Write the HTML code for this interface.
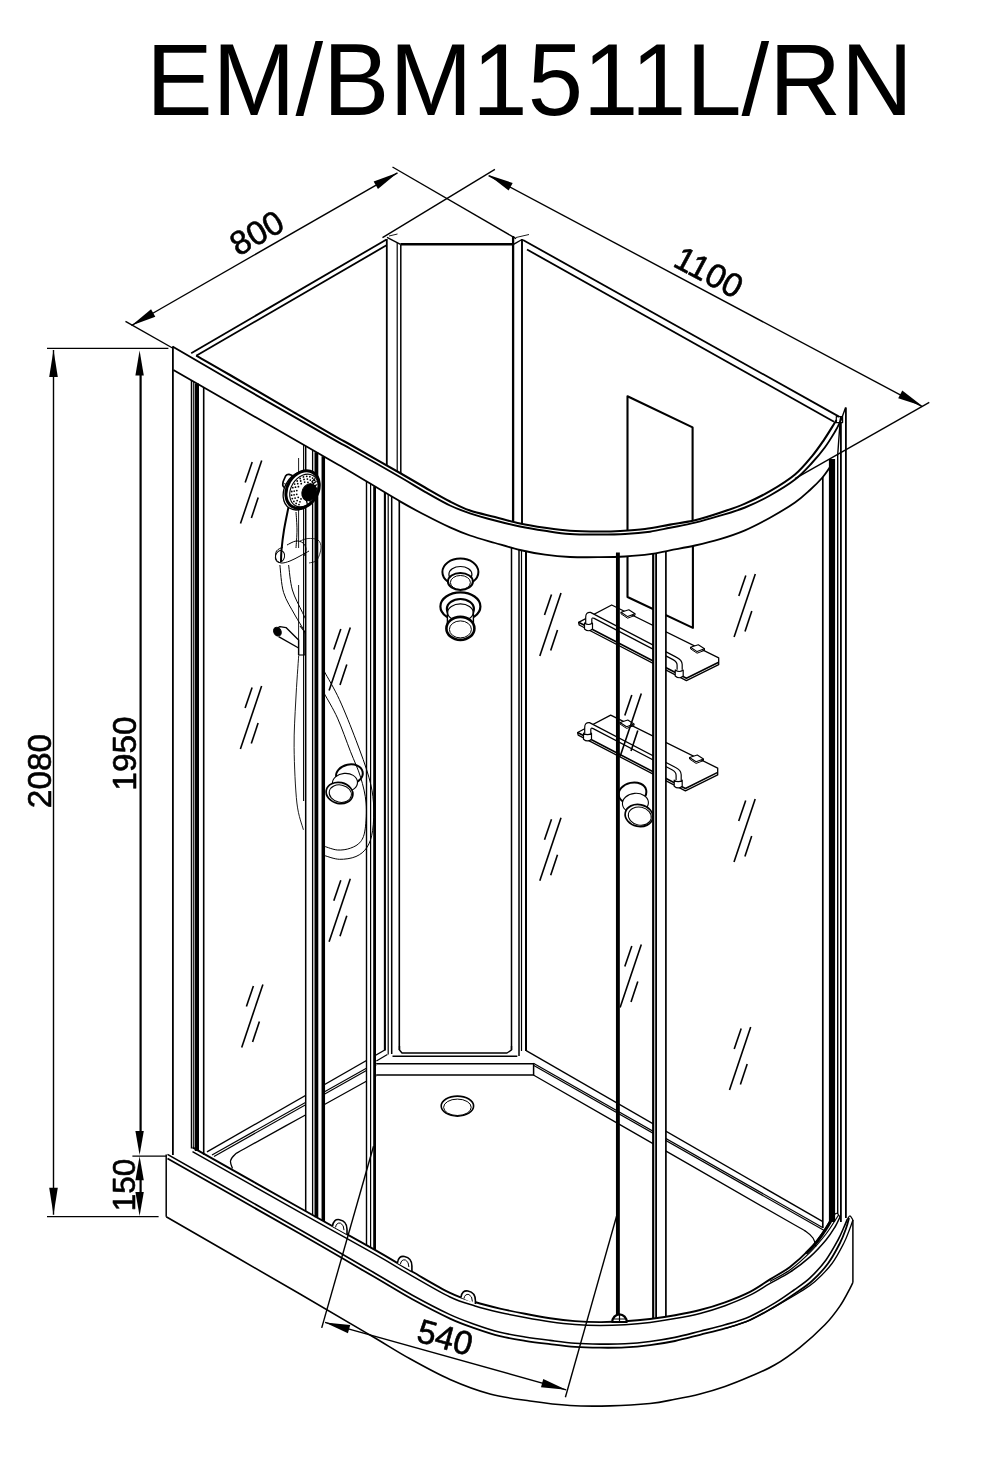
<!DOCTYPE html>
<html><head><meta charset="utf-8"><title>EM/BM1511L/RN</title>
<style>
html,body{margin:0;padding:0;background:#fff}
svg{display:block;will-change:transform}
text{font-family:"Liberation Sans",Arial,sans-serif}
</style></head><body>
<svg width="1001" height="1463" viewBox="0 0 1001 1463" fill="none" stroke="#000" stroke-linecap="butt" stroke-linejoin="round">
<rect width="1001" height="1463" fill="#fff" stroke="none"/>
<text x="0" y="0" font-size="99.5" text-anchor="start" transform="translate(146.2 114.9) rotate(0) scale(1 1.027)"  stroke="none" fill="#000">EM/BM1511L/RN</text>
<line x1="191.2" y1="353.2" x2="386.5" y2="239.5" stroke-width="1.8"/>
<line x1="196.2" y1="355.8" x2="386.5" y2="245.3" stroke-width="1.8"/>
<line x1="523" y1="240" x2="839" y2="416.6" stroke-width="1.8"/>
<line x1="527" y1="249.5" x2="834" y2="421.7" stroke-width="1.8"/>
<line x1="400.5" y1="244.2" x2="513" y2="244.2" stroke-width="2.4"/>
<line x1="386.8" y1="239" x2="386.8" y2="464.95" stroke-width="1.8"/>
<line x1="397.2" y1="243" x2="397.2" y2="470.9" stroke-width="1.2"/>
<line x1="400.8" y1="244.4" x2="400.8" y2="472.96" stroke-width="1.5"/>
<line x1="513.1" y1="236" x2="513.1" y2="521.37" stroke-width="2.3"/>
<line x1="522" y1="239" x2="522" y2="523.42" stroke-width="1.9"/>
<line x1="387" y1="237.3" x2="400.5" y2="244.4" stroke-width="1.4"/>
<line x1="389" y1="236" x2="397.5" y2="234" stroke-width="0.9"/>
<line x1="522" y1="239.5" x2="513.5" y2="244.4" stroke-width="1.4"/>
<line x1="516" y1="237.5" x2="529" y2="234.5" stroke-width="0.9"/>
<path d="M627.5 530.56 L627.5 396.2 L692.6 427.4 L692.6 520.84" stroke-width="2.1" fill="none"/>
<path d="M627.5 556.34 L627.5 597 L692.9 627.9 L692.9 545.96" stroke-width="2.1" fill="none"/>
<path d="M399.5 1046 L399.5 1050 L402 1053 L507 1053 L511.5 1050 L511.5 1046" stroke-width="1.4" fill="none"/>
<line x1="392.5" y1="1056.2" x2="517.3" y2="1056.2" stroke-width="1.4"/>
<path d="M376.2 1063.7 L533.6 1063.7 L533.6 1074.9 L376.2 1074.9" stroke-width="1.5" fill="none"/>
<line x1="384.8" y1="1050" x2="207" y2="1151.9" stroke-width="1.4"/>
<line x1="387.4" y1="1054.4" x2="376.4" y2="1061" stroke-width="1.2"/>
<line x1="376.2" y1="1062.7" x2="212" y2="1154.9" stroke-width="1.2"/>
<line x1="376.2" y1="1064.9" x2="214" y2="1156.5" stroke-width="1.2"/>
<path d="M376.2 1075.8 C374.63 1076.67 379.5 1073.97 366.8 1081 C354.1 1088.03 320.47 1106.67 300 1118 C279.53 1129.33 254.83 1142.92 244 1149 C233.17 1155.08 237.25 1152.5 235 1154.5 C232.75 1156.5 230.92 1158.67 230.5 1161 C230.08 1163.33 232.17 1167.25 232.5 1168.5" stroke-width="1.3" fill="none"/>
<line x1="526.2" y1="1050.7" x2="822.4" y2="1221.4" stroke-width="1.4"/>
<line x1="533.4" y1="1063.3" x2="823" y2="1227.79" stroke-width="1.2"/>
<line x1="533.4" y1="1065.3" x2="826" y2="1231.5" stroke-width="1.2"/>
<path d="M533.4 1075 C559.5 1089.98 647.23 1140.35 690 1164.9 C732.77 1189.45 770.67 1211.2 790 1222.3 C809.33 1233.4 802.17 1228.88 806 1231.5 C809.83 1234.12 811.33 1235.5 813 1238 C814.67 1240.5 815.5 1245.08 816 1246.5" stroke-width="1.3" fill="none"/>
<ellipse cx="457.4" cy="1106.1" rx="16.2" ry="10" stroke-width="1.6" fill="none"/>
<ellipse cx="457.4" cy="1107.3" rx="13.8" ry="8.2" stroke-width="1.0" fill="none"/>
<ellipse cx="460.4" cy="572" rx="18" ry="13.5" stroke-width="2" fill="none"/>
<ellipse cx="460.4" cy="574.5" rx="11.5" ry="8" stroke-width="1.2" fill="none"/>
<ellipse cx="460.4" cy="581.5" rx="12.5" ry="8.5" stroke-width="2" fill="#fff"/>
<ellipse cx="460.4" cy="582.5" rx="10" ry="7" stroke-width="1.0" fill="none"/>
<ellipse cx="460.4" cy="606.4" rx="20" ry="14" stroke-width="2.2" fill="none"/>
<ellipse cx="460.4" cy="609" rx="13.5" ry="10" stroke-width="2.2" fill="none"/>
<path d="M447.4 611.4 L447.4 626.4 L473.4 626.4 L473.4 611.4 Z" fill="#fff" stroke="none"/>
<ellipse cx="460.4" cy="612.4" rx="12.8" ry="8.5" stroke-width="1.2" fill="#fff"/>
<line x1="447.4" y1="611.4" x2="447.4" y2="625.4" stroke-width="1.4"/>
<line x1="473.4" y1="611.4" x2="473.4" y2="625.4" stroke-width="1.4"/>
<ellipse cx="460.4" cy="628.4" rx="14" ry="11.5" stroke-width="2.6" fill="#fff"/>
<ellipse cx="460.4" cy="629.4" rx="11" ry="8.5" stroke-width="1.0" fill="none"/>
<path d="M578.6 622.3 L611.7 605 L718.7 657.9 L718.7 664.7 L686.4 680.6 L579.2 625 Z" stroke-width="1.3" fill="#fff"/>
<path d="M578.6 622.3 L686.4 678.3 L718.7 662.2" stroke-width="1.6" fill="none"/>
<path d="M621 612.3 L628.8 609.8 L635 613.8 L627.6 616.6 Z" stroke-width="1.1" fill="#fff"/>
<path d="M621 612.3 L621 613.8 L627.6 618.2 L635 615.4 L635 613.8" stroke-width="1.0" fill="none"/>
<path d="M690.5 647.3 L698.3 644.8 L704.5 648.8 L697.1 651.6 Z" stroke-width="1.1" fill="#fff"/>
<path d="M690.5 647.3 L690.5 648.8 L697.1 653.2 L704.5 650.4 L704.5 648.8" stroke-width="1.0" fill="none"/>
<path d="M585.7 623.1 L585.7 617.2 Q585.7 612 590.5 612.4 L676.2 657.1 Q682.2 660 682.2 664.5 L682.2 669.8" stroke-width="1.2" fill="#fff"/>
<path d="M591.8 623.1 L591.8 619.4 Q591.8 617.2 594.2 618.4 L673 659.6 Q677.1 661.8 677.1 665 L677.1 669.8" stroke-width="1.2" fill="none"/>
<path d="M584.5 623 L584.5 629 Q588.5 632.5 592.5 629 L592.5 623 Q588.5 626 584.5 623 Z" stroke-width="1.2" fill="#fff"/>
<path d="M675.2 670 L675.2 676 Q679.2 679.5 683.2 676 L683.2 670 Q679.2 673 675.2 670 Z" stroke-width="1.2" fill="#fff"/>
<path d="M577.6 732.5 L610.7 715.2 L717.7 768.1 L717.7 774.9 L685.4 790.8 L578.2 735.2 Z" stroke-width="1.3" fill="#fff"/>
<path d="M577.6 732.5 L685.4 788.5 L717.7 772.4" stroke-width="1.6" fill="none"/>
<path d="M620 722.5 L627.8 720 L634 724 L626.6 726.8 Z" stroke-width="1.1" fill="#fff"/>
<path d="M620 722.5 L620 724 L626.6 728.4 L634 725.6 L634 724" stroke-width="1.0" fill="none"/>
<path d="M689.5 757.5 L697.3 755 L703.5 759 L696.1 761.8 Z" stroke-width="1.1" fill="#fff"/>
<path d="M689.5 757.5 L689.5 759 L696.1 763.4 L703.5 760.6 L703.5 759" stroke-width="1.0" fill="none"/>
<path d="M584.7 733.3 L584.7 727.4 Q584.7 722.2 589.5 722.6 L675.2 767.3 Q681.2 770.2 681.2 774.7 L681.2 780" stroke-width="1.2" fill="#fff"/>
<path d="M590.8 733.3 L590.8 729.6 Q590.8 727.4 593.2 728.6 L672 769.8 Q676.1 772 676.1 775.2 L676.1 780" stroke-width="1.2" fill="none"/>
<path d="M583.5 733.2 L583.5 739.2 Q587.5 742.7 591.5 739.2 L591.5 733.2 Q587.5 736.2 583.5 733.2 Z" stroke-width="1.2" fill="#fff"/>
<path d="M674.2 780.2 L674.2 786.2 Q678.2 789.7 682.2 786.2 L682.2 780.2 Q678.2 783.2 674.2 780.2 Z" stroke-width="1.2" fill="#fff"/>
<line x1="298.6" y1="458" x2="298.6" y2="548" stroke-width="0.9"/>
<line x1="298.6" y1="585" x2="298.6" y2="655" stroke-width="0.9"/>
<path d="M279.9 565 C280.52 569.58 281.1 584.17 283.6 592.5 C286.1 600.83 291.35 608.35 294.9 615 C298.45 621.65 302.42 626.57 304.9 632.4 C307.38 638.23 308.98 647.07 309.8 650" stroke-width="1.0" fill="none"/>
<path d="M288.6 565 C289.23 569.17 290.1 582.1 292.4 590 C294.7 597.9 299.5 606.17 302.4 612.4 C305.3 618.63 308.57 624.9 309.8 627.4" stroke-width="1.0" fill="none"/>
<path d="M298.7 655.4 C298.22 662.83 296.57 684.63 295.8 700 C295.03 715.37 293.92 730.43 294.1 747.6 C294.28 764.77 295.35 789.3 296.9 803 C298.45 816.7 302.32 825.33 303.4 829.8" stroke-width="0.9" fill="none"/>
<path d="M298.6 655 L298.6 640 L291.5 633 L286 627.6 L280 626.6 L275.6 629" stroke-width="1.4" fill="none"/>
<path d="M304.8 655 L304.8 632 L300 626" stroke-width="1.1" fill="none"/>
<path d="M278.6 636.6 L298.6 648" stroke-width="1.4" fill="none"/>
<ellipse cx="277.4" cy="631.6" rx="3.6" ry="4.6" stroke-width="1" fill="#000" transform="rotate(-30 277.4 631.6)"/>
<line x1="298.6" y1="655" x2="304.8" y2="655" stroke-width="1.1"/>
<ellipse cx="349.4" cy="774.5" rx="13.5" ry="9.99" stroke-width="2.0" fill="none" transform="rotate(-12 349.4 774.5)"/>
<ellipse cx="344.94" cy="782.83" rx="12.56" ry="9.45" stroke-width="1.1" fill="#fff" transform="rotate(-5 344.94 782.83)"/>
<ellipse cx="339.5" cy="793" rx="13.5" ry="10.53" stroke-width="1.7" fill="#fff" transform="rotate(12 339.5 793)"/>
<ellipse cx="340.3" cy="793.6" rx="11.21" ry="8.64" stroke-width="1.0" fill="none" transform="rotate(12 340.3 793.6)"/>
<ellipse cx="632.5" cy="793" rx="14" ry="10.36" stroke-width="2.0" fill="none" transform="rotate(-12 632.5 793)"/>
<ellipse cx="635.42" cy="803.12" rx="13.02" ry="9.8" stroke-width="1.1" fill="#fff" transform="rotate(-5 635.42 803.12)"/>
<ellipse cx="639" cy="815.5" rx="14" ry="10.92" stroke-width="1.7" fill="#fff" transform="rotate(12 639 815.5)"/>
<ellipse cx="639.8" cy="816.1" rx="11.62" ry="8.96" stroke-width="1.0" fill="none" transform="rotate(12 639.8 816.1)"/>
<path d="M305.9 446.14 L324 456.55 L324 1221.43 L305.9 1211.31 Z" fill="#fff" stroke="none"/>
<path d="M366.5 481.39 L375.5 486.81 L375.5 1250.24 L366.5 1245.16 Z" fill="#fff" stroke="none"/>
<path d="M653.3 553.7 L665.9 551.13 L665.9 1316.75 L653.3 1318.58 Z" fill="#fff" stroke="none"/>
<path d="M324.6 672 C327.07 676.6 334.17 688.23 339.4 699.6 C344.63 710.97 351.08 727.27 356 740.2 C360.92 753.13 365.98 766.73 368.9 777.2 C371.82 787.67 372.88 794.08 373.5 803 C374.12 811.92 373.68 823.32 372.6 830.7 C371.52 838.08 369.77 843 367 847.3 C364.23 851.6 360.6 854.5 356 856.5 C351.4 858.5 344.63 859.45 339.4 859.3 C334.17 859.15 327.07 856.22 324.6 855.6" stroke-width="1.0" fill="none"/>
<path d="M324.6 694.1 C326.75 698.1 333.2 708.57 337.5 718.1 C341.8 727.63 346.55 741.45 350.4 751.3 C354.25 761.15 357.98 768.58 360.6 777.2 C363.22 785.82 365.33 794.4 366.1 803 C366.87 811.6 366.12 822.35 365.2 828.8 C364.28 835.25 363.07 838.47 360.6 841.7 C358.13 844.93 354.25 846.82 350.4 848.2 C346.55 849.58 341.8 850.3 337.5 850 C333.2 849.7 326.75 847 324.6 846.4" stroke-width="1.0" fill="none"/>
<line x1="172.9" y1="346.5" x2="172.9" y2="1155" stroke-width="1.8"/>
<line x1="191.5" y1="380.39" x2="191.5" y2="1148.4" stroke-width="1.5"/>
<line x1="193.7" y1="381.65" x2="193.7" y2="1149.08" stroke-width="1.1"/>
<line x1="196.9" y1="383.49" x2="196.9" y2="1150.88" stroke-width="4.2"/>
<line x1="203.7" y1="387.39" x2="203.7" y2="1154.72" stroke-width="1.6"/>
<line x1="303.6" y1="444.82" x2="303.6" y2="801" stroke-width="1.1"/>
<line x1="305.7" y1="446.03" x2="305.7" y2="1211.2" stroke-width="1.5"/>
<line x1="312.6" y1="449.99" x2="312.6" y2="1215.06" stroke-width="1.3"/>
<line x1="316.4" y1="452.18" x2="316.4" y2="1217.19" stroke-width="3.8"/>
<line x1="323.3" y1="456.15" x2="323.3" y2="1221.04" stroke-width="3.5"/>
<line x1="366.5" y1="481.39" x2="366.5" y2="1245.16" stroke-width="1.4"/>
<line x1="370.6" y1="483.86" x2="370.6" y2="1247.47" stroke-width="1.2"/>
<line x1="374.6" y1="486.27" x2="374.6" y2="1249.73" stroke-width="2.8"/>
<line x1="384.9" y1="492.45" x2="384.9" y2="1050.5" stroke-width="2.1"/>
<line x1="388.2" y1="494.43" x2="388.2" y2="1054.5" stroke-width="1.2"/>
<line x1="391.7" y1="496.51" x2="391.7" y2="1054" stroke-width="1.5"/>
<line x1="399.3" y1="500.99" x2="399.3" y2="1050" stroke-width="1.6"/>
<line x1="511.5" y1="547.81" x2="511.5" y2="1050" stroke-width="1.5"/>
<line x1="519" y1="549.76" x2="519" y2="1056" stroke-width="1.5"/>
<line x1="521.5" y1="550.35" x2="521.5" y2="1051" stroke-width="1.2"/>
<line x1="526" y1="551.34" x2="526" y2="1051" stroke-width="2"/>
<line x1="617.9" y1="552.5" x2="617.9" y2="1318" stroke-width="3.9"/>
<line x1="653.2" y1="553.71" x2="653.2" y2="1318.6" stroke-width="2.2"/>
<line x1="656.1" y1="553.2" x2="656.1" y2="1318.21" stroke-width="1.8"/>
<line x1="665.9" y1="551.13" x2="665.9" y2="1316.75" stroke-width="1.7"/>
<line x1="822.8" y1="477.06" x2="822.8" y2="1228" stroke-width="1.7"/>
<line x1="832" y1="459" x2="832" y2="1222" stroke-width="6.2"/>
<path d="M845.6 407.5 L840 423 L837.7 455 L837.7 1214" stroke-width="1.4" fill="none"/>
<line x1="840.9" y1="423" x2="840.9" y2="1222" stroke-width="1.8"/>
<path d="M836.3 416.6 L842.6 416.6 L842.6 422.6 L836.3 422.6 Z" stroke-width="1.2" fill="none"/>
<line x1="845.9" y1="407.4" x2="845.9" y2="1218" stroke-width="1.8"/>
<path d="M288.5 507 C287.75 510.83 285.17 522.83 284 530 C282.83 537.17 282 544.67 281.5 550 C281 555.33 281.08 560 281 562" stroke-width="2.0" fill="none"/>
<path d="M296 512 C296.17 515 297 524 297 530 C297 536 296.17 545 296 548" stroke-width="1.0" fill="none"/>
<path d="M283 547 C281.92 547.67 277.67 549 276.5 551 C275.33 553 275.25 557 276 559 C276.75 561 278.67 562.67 281 563 C283.33 563.33 286.83 562.17 290 561 C293.17 559.83 296.83 557.67 300 556 C303.17 554.33 307.5 551.83 309 551" stroke-width="1.0" fill="none"/>
<path d="M287 545 C288.5 544.33 293.33 541.33 296 541 C298.67 540.67 301.33 541.67 303 543 C304.67 544.33 305.83 546.83 306 549 C306.17 551.17 304.33 554.83 304 556" stroke-width="1.0" fill="none"/>
<ellipse cx="280" cy="556.5" rx="4.5" ry="6" stroke-width="1.0" fill="none" transform="rotate(15 280 556.5)"/>
<path d="M300 541 C301.33 540.58 305 538.67 308 538.5 C311 538.33 315.83 538.42 318 540 C320.17 541.58 321.17 544.67 321 548 C320.83 551.33 319 557.5 317 560 C315 562.5 310.33 562.5 309 563" stroke-width="0.8" fill="none"/>
<path d="M283.2 481.5 L285.6 476 Q286.8 474.2 289 474.4 L291.8 475.2 Q293.6 476 293 478 L290 486.8 Q289 488.8 287 488.4 L284.4 487.4 Q282.4 486.4 282.8 484 Z" stroke-width="1.7" fill="#fff"/>
<line x1="284.2" y1="483.6" x2="290.6" y2="486.2" stroke-width="1.0"/>
<ellipse cx="300.3" cy="490.6" rx="15.6" ry="20.6" stroke-width="1.3" fill="#fff" transform="rotate(32 300.3 490.6)"/>
<ellipse cx="302.6" cy="489.6" rx="15.2" ry="20" stroke-width="3.0" fill="#fff" transform="rotate(32 302.6 489.6)"/>
<ellipse cx="304" cy="490.5" rx="13" ry="17.4" stroke-width="1.1" fill="none" transform="rotate(31 304 490.5)"/>
<circle cx="301" cy="498.89" r="0.9" fill="#000" stroke="none"/>
<circle cx="298.25" cy="497.37" r="0.9" fill="#000" stroke="none"/>
<circle cx="296.74" cy="494.37" r="0.9" fill="#000" stroke="none"/>
<circle cx="296.8" cy="490.53" r="0.9" fill="#000" stroke="none"/>
<circle cx="298.41" cy="486.68" r="0.9" fill="#000" stroke="none"/>
<circle cx="301.24" cy="483.66" r="0.9" fill="#000" stroke="none"/>
<circle cx="304.66" cy="482.12" r="0.9" fill="#000" stroke="none"/>
<circle cx="307.93" cy="482.38" r="0.9" fill="#000" stroke="none"/>
<circle cx="310.36" cy="484.4" r="0.9" fill="#000" stroke="none"/>
<circle cx="299.96" cy="501.8" r="0.9" fill="#000" stroke="none"/>
<circle cx="297.13" cy="500.54" r="0.9" fill="#000" stroke="none"/>
<circle cx="295.09" cy="498.12" r="0.9" fill="#000" stroke="none"/>
<circle cx="294.08" cy="494.82" r="0.9" fill="#000" stroke="none"/>
<circle cx="294.21" cy="491.03" r="0.9" fill="#000" stroke="none"/>
<circle cx="295.47" cy="487.17" r="0.9" fill="#000" stroke="none"/>
<circle cx="297.71" cy="483.7" r="0.9" fill="#000" stroke="none"/>
<circle cx="300.68" cy="481.01" r="0.9" fill="#000" stroke="none"/>
<circle cx="304.03" cy="479.42" r="0.9" fill="#000" stroke="none"/>
<circle cx="307.38" cy="479.1" r="0.9" fill="#000" stroke="none"/>
<circle cx="310.33" cy="480.1" r="0.9" fill="#000" stroke="none"/>
<circle cx="312.56" cy="482.29" r="0.9" fill="#000" stroke="none"/>
<circle cx="298.98" cy="504.54" r="0.9" fill="#000" stroke="none"/>
<circle cx="296.14" cy="503.44" r="0.9" fill="#000" stroke="none"/>
<circle cx="293.87" cy="501.41" r="0.9" fill="#000" stroke="none"/>
<circle cx="292.32" cy="498.61" r="0.9" fill="#000" stroke="none"/>
<circle cx="291.6" cy="495.22" r="0.9" fill="#000" stroke="none"/>
<circle cx="291.77" cy="491.5" r="0.9" fill="#000" stroke="none"/>
<circle cx="292.81" cy="487.71" r="0.9" fill="#000" stroke="none"/>
<circle cx="294.65" cy="484.11" r="0.9" fill="#000" stroke="none"/>
<circle cx="297.16" cy="480.98" r="0.9" fill="#000" stroke="none"/>
<circle cx="300.16" cy="478.52" r="0.9" fill="#000" stroke="none"/>
<circle cx="303.43" cy="476.92" r="0.9" fill="#000" stroke="none"/>
<circle cx="306.74" cy="476.28" r="0.9" fill="#000" stroke="none"/>
<circle cx="309.86" cy="476.67" r="0.9" fill="#000" stroke="none"/>
<circle cx="312.56" cy="478.04" r="0.9" fill="#000" stroke="none"/>
<circle cx="314.64" cy="480.3" r="0.9" fill="#000" stroke="none"/>
<line x1="311.62" y1="482.14" x2="314.96" y2="478.46" stroke-width="1.3"/>
<line x1="312.74" y1="484.03" x2="316.58" y2="481.19" stroke-width="1.3"/>
<line x1="313.34" y1="486.31" x2="317.45" y2="484.48" stroke-width="1.3"/>
<line x1="313.39" y1="488.84" x2="317.52" y2="488.12" stroke-width="1.3"/>
<line x1="312.88" y1="491.47" x2="316.78" y2="491.9" stroke-width="1.3"/>
<line x1="311.84" y1="494.04" x2="315.29" y2="495.6" stroke-width="1.3"/>
<line x1="310.34" y1="496.4" x2="313.12" y2="499" stroke-width="1.3"/>
<line x1="308.46" y1="498.41" x2="310.42" y2="501.89" stroke-width="1.3"/>
<line x1="306.31" y1="499.95" x2="307.33" y2="504.11" stroke-width="1.3"/>
<ellipse cx="309.3" cy="492.2" rx="7.2" ry="8.8" stroke-width="1" fill="#000" transform="rotate(25 309.3 492.2)"/>
<path d="M196.2 355.6 C201.83 358.83 207.7 362.03 230 375 C252.3 387.97 310 421.82 330 433.4 C350 444.98 338.33 437.9 350 444.5 C361.67 451.1 387.5 465.83 400 473 C412.5 480.17 416.67 482.75 425 487.5 C433.33 492.25 442.5 497.67 450 501.5 C457.5 505.33 462.5 507.92 470 510.5 C477.5 513.08 486.67 514.83 495 517 C503.33 519.17 511.67 521.7 520 523.5 C528.33 525.3 536.67 526.58 545 527.8 C553.33 529.02 560.83 530.18 570 530.8 C579.17 531.42 591.67 531.47 600 531.5 C608.33 531.53 612.5 531.42 620 531 C627.5 530.58 636.67 530.07 645 529 C653.33 527.93 661.67 526.05 670 524.6 C678.33 523.15 686.67 522.27 695 520.3 C703.33 518.33 711.67 515.58 720 512.8 C728.33 510.02 736.67 507.2 745 503.6 C753.33 500 761.67 496.05 770 491.2 C778.33 486.35 787.95 480.4 795 474.5 C802.05 468.6 807.47 461.58 812.3 455.8 C817.13 450.02 820.38 445.1 824 439.8 C827.62 434.5 831.93 427.3 834 424 C836.07 420.7 836 420.67 836.4 420" stroke-width="2.1" fill="none"/>
<path d="M172.5 346.5 C182.08 352.08 203.75 364.85 230 380 C256.25 395.15 310 425.98 330 437.4 C350 448.82 338.33 441.9 350 448.5 C361.67 455.1 387.5 469.78 400 477 C412.5 484.22 416.67 487.05 425 491.8 C433.33 496.55 442.5 501.92 450 505.5 C457.5 509.08 462.5 510.8 470 513.3 C477.5 515.8 486.67 518.3 495 520.5 C503.33 522.7 511.67 524.78 520 526.5 C528.33 528.22 536.67 529.55 545 530.8 C553.33 532.05 560.83 533.38 570 534 C579.17 534.62 590.83 534.5 600 534.5 C609.17 534.5 616.67 534.47 625 534 C633.33 533.53 642.5 532.73 650 531.7 C657.5 530.67 662.5 529.3 670 527.8 C677.5 526.3 686.67 524.72 695 522.7 C703.33 520.68 711.67 518.23 720 515.7 C728.33 513.17 736.67 510.87 745 507.5 C753.33 504.13 761.67 500.15 770 495.5 C778.33 490.85 787.95 485.1 795 479.6 C802.05 474.1 807.33 467.85 812.3 462.5 C817.27 457.15 821.05 452.58 824.8 447.5 C828.55 442.42 832.35 436.08 834.8 432 C837.25 427.92 838.47 425.5 839.5 423 C840.53 420.5 840.75 418 841 417" stroke-width="1.9" fill="none"/>
<path d="M173.4 370 C182.83 375.42 203.9 387.5 230 402.5 C256.1 417.5 310 448.5 330 460 C350 471.5 338.33 464.6 350 471.5 C361.67 478.4 387.5 494.15 400 501.4 C412.5 508.65 416.67 510.67 425 515 C433.33 519.33 442.5 523.98 450 527.4 C457.5 530.82 462.5 532.9 470 535.5 C477.5 538.1 486.67 540.58 495 543 C503.33 545.42 511.67 548.05 520 550 C528.33 551.95 536.67 553.53 545 554.7 C553.33 555.87 560.83 556.58 570 557 C579.17 557.42 590.83 557.28 600 557.2 C609.17 557.12 616.67 557 625 556.5 C633.33 556 642.5 555.23 650 554.2 C657.5 553.17 662.5 551.75 670 550.3 C677.5 548.85 686.67 547.37 695 545.5 C703.33 543.63 711.67 541.63 720 539.1 C728.33 536.57 736.67 533.87 745 530.3 C753.33 526.73 761.67 522.33 770 517.7 C778.33 513.07 788.33 507.12 795 502.5 C801.67 497.88 805.5 494.08 810 490 C814.5 485.92 818.67 481.83 822 478 C825.33 474.17 828 470.08 830 467 C832 463.92 833.33 460.75 834 459.5" stroke-width="1.8" fill="none"/>
<path d="M192.5 1147.4 C210.42 1157.5 269.6 1190.92 300 1208 C330.4 1225.08 356.17 1239.27 374.9 1249.9 C393.63 1260.53 399.88 1264.63 412.4 1271.8 C424.92 1278.97 439.57 1287.87 450 1292.9 C460.43 1297.93 466.67 1299.38 475 1302 C483.33 1304.62 491.67 1306.63 500 1308.6 C508.33 1310.57 516.67 1312.2 525 1313.8 C533.33 1315.4 541.67 1316.98 550 1318.2 C558.33 1319.42 566.67 1320.45 575 1321.1 C583.33 1321.75 591.67 1322.07 600 1322.1 C608.33 1322.13 616.67 1321.82 625 1321.3 C633.33 1320.78 641.67 1320.02 650 1319 C658.33 1317.98 666.67 1316.7 675 1315.2 C683.33 1313.7 691.67 1312.15 700 1310 C708.33 1307.85 716.67 1305.33 725 1302.3 C733.33 1299.27 742.5 1295.62 750 1291.8 C757.5 1287.98 763.33 1283.55 770 1279.4 C776.67 1275.25 783.33 1271.98 790 1266.9 C796.67 1261.82 804.67 1254.38 810 1248.9 C815.33 1243.42 818.83 1238.32 822 1234 C825.17 1229.68 827 1226.17 829 1223 C831 1219.83 833.17 1216.33 834 1215" stroke-width="1.9" fill="none"/>
<path d="M192.5 1151.7 C210.42 1161.8 269.6 1195.22 300 1212.3 C330.4 1229.38 356.17 1243.58 374.9 1254.2 C393.63 1264.82 399.88 1268.92 412.4 1276.04 C424.92 1283.17 439.57 1291.99 450 1296.98 C460.43 1301.96 466.67 1303.38 475 1305.96 C483.33 1308.54 491.67 1310.52 500 1312.45 C508.33 1314.38 516.67 1315.97 525 1317.54 C533.33 1319.1 541.67 1320.65 550 1321.83 C558.33 1323 566.67 1324 575 1324.61 C583.33 1325.22 591.67 1325.49 600 1325.5 C608.33 1325.51 616.67 1325.22 625 1324.7 C633.33 1324.18 641.67 1323.42 650 1322.4 C658.33 1321.38 666.67 1320.1 675 1318.6 C683.33 1317.1 691.67 1315.55 700 1313.4 C708.33 1311.25 716.67 1308.73 725 1305.7 C733.33 1302.67 742.5 1298.92 750 1295.2 C757.5 1291.48 763.33 1287.23 770 1283.4 C776.67 1279.57 783.33 1276.62 790 1272.2 C796.67 1267.78 804 1262.27 810 1256.9 C816 1251.53 821.83 1244.98 826 1240 C830.17 1235.02 832.67 1230.83 835 1227 C837.33 1223.17 839.17 1218.67 840 1217" stroke-width="1.5" fill="none"/>
<path d="M770 1281.4 C773.33 1279.48 783.33 1274.73 790 1269.9 C796.67 1265.07 804 1258.38 810 1252.4 C816 1246.42 821.67 1239.57 826 1234 C830.33 1228.43 833.92 1222.17 836 1219 C838.08 1215.83 838.08 1215.67 838.5 1215" stroke-width="1.2" fill="none"/>
<path d="M834 1215 C834.5 1214.72 836 1212.97 837 1213.3 C838 1213.63 839.5 1216.38 840 1217" stroke-width="1.2" fill="none"/>
<path d="M806 1253.5 C807.67 1251.75 813 1246.58 816 1243 C819 1239.42 821.67 1235.42 824 1232 C826.33 1228.58 828.42 1225.17 830 1222.5 C831.58 1219.83 832.92 1217.08 833.5 1216" stroke-width="3" fill="none"/>
<path d="M167.5 1154.4 C189.58 1166.95 265.43 1209.9 300 1229.7 C334.57 1249.5 356.17 1262.28 374.9 1273.2 C393.63 1284.12 399.88 1288.3 412.4 1295.2 C424.92 1302.1 439.57 1309.73 450 1314.6 C460.43 1319.47 466.67 1321.45 475 1324.4 C483.33 1327.35 491.67 1330.2 500 1332.3 C508.33 1334.4 516.67 1335.65 525 1337 C533.33 1338.35 541.67 1339.37 550 1340.4 C558.33 1341.43 566.67 1342.58 575 1343.2 C583.33 1343.82 591.67 1344 600 1344.1 C608.33 1344.2 616.67 1344.23 625 1343.8 C633.33 1343.37 641.67 1342.57 650 1341.5 C658.33 1340.43 666.67 1339.12 675 1337.4 C683.33 1335.68 691.67 1333.3 700 1331.2 C708.33 1329.1 716.67 1327.27 725 1324.8 C733.33 1322.33 741.67 1320.05 750 1316.4 C758.33 1312.75 767.67 1307.3 775 1302.9 C782.33 1298.5 788.17 1294.17 794 1290 C799.83 1285.83 804.67 1282.92 810 1277.9 C815.33 1272.88 821.33 1266.22 826 1259.9 C830.67 1253.58 835 1245.48 838 1240 C841 1234.52 842.43 1230.5 844 1227 C845.57 1223.5 846.83 1220.33 847.4 1219" stroke-width="1.6" fill="none"/>
<path d="M167.5 1158.5 C189.58 1171.05 265.43 1214 300 1233.8 C334.57 1253.6 356.17 1266.39 374.9 1277.3 C393.63 1288.21 399.88 1292.39 412.4 1299.27 C424.92 1306.15 439.57 1313.73 450 1318.57 C460.43 1323.42 466.67 1325.38 475 1328.31 C483.33 1331.24 491.67 1334.07 500 1336.15 C508.33 1338.23 516.67 1339.46 525 1340.79 C533.33 1342.12 541.67 1343.11 550 1344.12 C558.33 1345.14 566.67 1346.27 575 1346.86 C583.33 1347.46 591.67 1347.61 600 1347.7 C608.33 1347.79 616.67 1347.83 625 1347.4 C633.33 1346.97 641.67 1346.17 650 1345.1 C658.33 1344.03 666.67 1342.72 675 1341 C683.33 1339.28 691.67 1336.9 700 1334.8 C708.33 1332.7 716.67 1330.87 725 1328.4 C733.33 1325.93 741.67 1323.65 750 1320 C758.33 1316.35 767.25 1311.08 775 1306.5 C782.75 1301.92 790.33 1296.75 796.5 1292.5 C802.67 1288.25 806.75 1285.83 812 1281 C817.25 1276.17 823.33 1269.83 828 1263.5 C832.67 1257.17 837 1248.83 840 1243 C843 1237.17 844.5 1232.67 846 1228.5 C847.5 1224.33 848.5 1219.75 849 1218" stroke-width="1.8" fill="none"/>
<path d="M725 1328.5 C729.17 1327.1 741.67 1323.75 750 1320.1 C758.33 1316.45 766.67 1311.28 775 1306.6 C783.33 1301.92 793.33 1296.18 800 1292 C806.67 1287.82 809.67 1286.25 815 1281.5 C820.33 1276.75 827.18 1269.92 832 1263.5 C836.82 1257.08 840.92 1248.83 843.9 1243 C846.88 1237.17 848.4 1232.33 849.9 1228.5 C851.4 1224.67 852.4 1221.42 852.9 1220" stroke-width="1.3" fill="none"/>
<path d="M847.4 1219 C847.83 1218.47 849.08 1215.63 850 1215.8 C850.92 1215.97 852.42 1219.3 852.9 1220" stroke-width="1.3" fill="none"/>
<path d="M166.2 1216.8 C188.5 1229.67 266.03 1274.3 300 1294 C333.97 1313.7 351.67 1324.2 370 1335 C388.33 1345.8 396.67 1351.38 410 1358.8 C423.33 1366.22 436.67 1373.63 450 1379.5 C463.33 1385.37 476.67 1390.42 490 1394 C503.33 1397.58 516.67 1399.08 530 1401 C543.33 1402.92 556.67 1404.68 570 1405.5 C583.33 1406.32 596.67 1406.23 610 1405.9 C623.33 1405.57 639.17 1404.6 650 1403.5 C660.83 1402.4 666.67 1400.88 675 1399.3 C683.33 1397.72 691.67 1396.13 700 1394 C708.33 1391.87 716.67 1389.4 725 1386.5 C733.33 1383.6 741.67 1380.22 750 1376.6 C758.33 1372.98 766.67 1369.68 775 1364.8 C783.33 1359.92 791.68 1353.97 800 1347.3 C808.32 1340.63 818.25 1331.67 824.9 1324.8 C831.55 1317.93 835.73 1312.13 839.9 1306.1 C844.07 1300.07 847.73 1292.55 849.9 1288.6 C852.07 1284.65 852.4 1283.43 852.9 1282.4" stroke-width="1.6" fill="none"/>
<line x1="166.2" y1="1154.4" x2="166.2" y2="1216.8" stroke-width="1.5"/>
<line x1="852.9" y1="1220" x2="852.9" y2="1282.4" stroke-width="1.5"/>
<path d="M332.5 1226.17 Q333.5 1218.67 339.5 1219.67 Q347 1221.17 347 1229.17 L347 1234.29" stroke-width="1.6" fill="#fff"/>
<path d="M335.5 1227.37 Q336.5 1222.17 340.5 1223.17 Q344 1224.67 344 1230.17" stroke-width="1" fill="none"/>
<path d="M397.4 1262.99 Q398.4 1255.49 404.4 1256.49 Q411.9 1257.99 411.9 1265.99 L411.9 1270.97" stroke-width="1.6" fill="#fff"/>
<path d="M400.4 1264.19 Q401.4 1258.99 405.4 1259.99 Q408.9 1261.49 408.9 1266.99" stroke-width="1" fill="none"/>
<path d="M460.9 1297.52 Q461.9 1290.02 467.9 1291.02 Q475.4 1292.52 475.4 1300.52 L475.4 1304.05" stroke-width="1.6" fill="#fff"/>
<path d="M463.9 1298.72 Q464.9 1293.52 468.9 1294.52 Q472.4 1296.02 472.4 1301.52" stroke-width="1" fill="none"/>
<path d="M612.3 1322 A7.2 7.6 0 0 1 626.7 1322 Z" stroke-width="2.2" fill="#fff"/>
<line x1="619.5" y1="1315" x2="619.5" y2="1322" stroke-width="1.2"/>
<line x1="614" y1="1319" x2="625" y2="1319" stroke-width="1.0"/>
<line x1="261.7" y1="460.5" x2="240.5" y2="523.5" stroke-width="1.6"/>
<line x1="252.2" y1="462" x2="245.2" y2="482.5" stroke-width="1.6"/>
<line x1="258.2" y1="497.5" x2="251.4" y2="518" stroke-width="1.6"/>
<line x1="261.6" y1="686.1" x2="240.4" y2="749.1" stroke-width="1.6"/>
<line x1="252.1" y1="687.6" x2="245.1" y2="708.1" stroke-width="1.6"/>
<line x1="258.1" y1="723.1" x2="251.3" y2="743.6" stroke-width="1.6"/>
<line x1="262.9" y1="984.4" x2="241.7" y2="1047.4" stroke-width="1.6"/>
<line x1="253.4" y1="985.9" x2="246.4" y2="1006.4" stroke-width="1.6"/>
<line x1="259.4" y1="1021.4" x2="252.6" y2="1041.9" stroke-width="1.6"/>
<line x1="350.3" y1="627.4" x2="329.1" y2="690.4" stroke-width="1.6"/>
<line x1="340.8" y1="628.9" x2="333.8" y2="649.4" stroke-width="1.6"/>
<line x1="346.8" y1="664.4" x2="340" y2="684.9" stroke-width="1.6"/>
<line x1="350.3" y1="878.7" x2="329.1" y2="941.7" stroke-width="1.6"/>
<line x1="340.8" y1="880.2" x2="333.8" y2="900.7" stroke-width="1.6"/>
<line x1="346.8" y1="915.7" x2="340" y2="936.2" stroke-width="1.6"/>
<line x1="561" y1="593" x2="539.8" y2="656" stroke-width="1.6"/>
<line x1="551.5" y1="594.5" x2="544.5" y2="615" stroke-width="1.6"/>
<line x1="557.5" y1="630" x2="550.7" y2="650.5" stroke-width="1.6"/>
<line x1="561" y1="817.7" x2="539.8" y2="880.7" stroke-width="1.6"/>
<line x1="551.5" y1="819.2" x2="544.5" y2="839.7" stroke-width="1.6"/>
<line x1="557.5" y1="854.7" x2="550.7" y2="875.2" stroke-width="1.6"/>
<line x1="641.3" y1="693.4" x2="620.1" y2="756.4" stroke-width="1.6"/>
<line x1="631.8" y1="694.9" x2="624.8" y2="715.4" stroke-width="1.6"/>
<line x1="637.8" y1="730.4" x2="631" y2="750.9" stroke-width="1.6"/>
<line x1="641.3" y1="944.5" x2="620.1" y2="1007.5" stroke-width="1.6"/>
<line x1="631.8" y1="946" x2="624.8" y2="966.5" stroke-width="1.6"/>
<line x1="637.8" y1="981.5" x2="631" y2="1002" stroke-width="1.6"/>
<line x1="755.3" y1="574" x2="734.1" y2="637" stroke-width="1.6"/>
<line x1="745.8" y1="575.5" x2="738.8" y2="596" stroke-width="1.6"/>
<line x1="751.8" y1="611" x2="745" y2="631.5" stroke-width="1.6"/>
<line x1="755.2" y1="799.1" x2="734" y2="862.1" stroke-width="1.6"/>
<line x1="745.7" y1="800.6" x2="738.7" y2="821.1" stroke-width="1.6"/>
<line x1="751.7" y1="836.1" x2="744.9" y2="856.6" stroke-width="1.6"/>
<line x1="750.7" y1="1026.9" x2="729.5" y2="1089.9" stroke-width="1.6"/>
<line x1="741.2" y1="1028.4" x2="734.2" y2="1048.9" stroke-width="1.6"/>
<line x1="747.2" y1="1063.9" x2="740.4" y2="1084.4" stroke-width="1.6"/>
<line x1="131.5" y1="325.5" x2="397.5" y2="172.8" stroke-width="1.4"/>
<path d="M131.5 325.5 L151.05 309.33 L155.33 316.79 Z" fill="#000" stroke="none"/>
<path d="M397.5 172.8 L377.95 188.97 L373.67 181.51 Z" fill="#000" stroke="none"/>
<line x1="125.5" y1="321.4" x2="172.5" y2="348" stroke-width="1.4"/>
<line x1="392.5" y1="167" x2="516.1" y2="238.7" stroke-width="1.4"/>
<text x="0" y="0" font-size="33.4" text-anchor="middle" transform="translate(262.5 242.8) rotate(-30) scale(1 1.0)"  stroke="#000" stroke-width="0.6" fill="#000">800</text>
<line x1="488.6" y1="175.6" x2="922.3" y2="406.7" stroke-width="1.4"/>
<path d="M488.6 175 L512.69 182.96 L508.64 190.55 Z" fill="#000" stroke="none"/>
<path d="M922.3 406.1 L898.21 398.14 L902.26 390.55 Z" fill="#000" stroke="none"/>
<line x1="494.9" y1="169.3" x2="382.5" y2="237.7" stroke-width="1.4"/>
<line x1="929.3" y1="402.4" x2="795" y2="478.6" stroke-width="1.4"/>
<text x="0" y="0" font-size="33.4" text-anchor="middle" transform="translate(703.5 282.3) rotate(28) scale(1 1.0)"  stroke="#000" stroke-width="0.6" fill="#000">1100</text>
<line x1="53.5" y1="350" x2="53.5" y2="1214.8" stroke-width="1.4"/>
<path d="M53.5 350 L57.8 377 L49.2 377 Z" fill="#000" stroke="none"/>
<path d="M53.5 1214.8 L49.2 1187.8 L57.8 1187.8 Z" fill="#000" stroke="none"/>
<line x1="47" y1="348.4" x2="168.4" y2="348.4" stroke-width="1.4"/>
<line x1="47" y1="1216.6" x2="158.6" y2="1216.6" stroke-width="1.4"/>
<text x="0" y="0" font-size="33.4" text-anchor="middle" transform="translate(50.7 771) rotate(-90) scale(1 1.0)"  stroke="#000" stroke-width="0.6" fill="#000">2080</text>
<line x1="140.6" y1="370" x2="140.6" y2="1136" stroke-width="2.2"/>
<path d="M139.6 350.5 L143.8 375.5 L135.4 375.5 Z" fill="#000" stroke="none"/>
<path d="M139.6 1154.9 L135.4 1130.9 L143.8 1130.9 Z" fill="#000" stroke="none"/>
<line x1="132.4" y1="1156.1" x2="166" y2="1156.1" stroke-width="1.4"/>
<text x="0" y="0" font-size="33.4" text-anchor="middle" transform="translate(136 753.5) rotate(-90) scale(1 1.0)"  stroke="#000" stroke-width="0.6" fill="#000">1950</text>
<path d="M139.6 1156.3 L143.8 1180.3 L135.4 1180.3 Z" fill="#000" stroke="none"/>
<path d="M139.6 1216 L135.4 1192 L143.8 1192 Z" fill="#000" stroke="none"/>
<text x="0" y="0" font-size="31.5" text-anchor="middle" transform="translate(135 1185) rotate(-90) scale(1 1.0)"  stroke="#000" stroke-width="0.6" fill="#000">150</text>
<line x1="140.6" y1="1175" x2="140.6" y2="1197" stroke-width="2.2"/>
<line x1="325" y1="1322.4" x2="566.2" y2="1389.8" stroke-width="1.4"/>
<path d="M325 1322.4 L350.23 1324.99 L347.92 1333.27 Z" fill="#000" stroke="none"/>
<path d="M566.2 1389.8 L540.97 1387.21 L543.28 1378.93 Z" fill="#000" stroke="none"/>
<line x1="373.5" y1="1146.2" x2="321.7" y2="1327.9" stroke-width="1.4"/>
<line x1="616.9" y1="1215" x2="565.4" y2="1397.3" stroke-width="1.4"/>
<text x="0" y="0" font-size="33.4" text-anchor="middle" transform="translate(442 1348.6) rotate(15.6) scale(1 1.0)"  stroke="#000" stroke-width="0.6" fill="#000">540</text>
</svg>
</body></html>
